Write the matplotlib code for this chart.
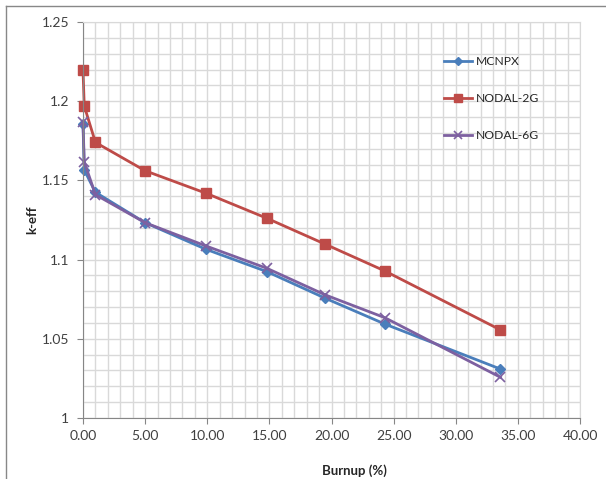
import matplotlib.pyplot as plt
from matplotlib.lines import Line2D
from matplotlib.ticker import MultipleLocator, FuncFormatter

plt.rcParams['font.family'] = ['Lato', 'DejaVu Sans']

burnup = [0.0, 0.1, 1.0, 5.0, 9.9, 14.8, 19.5, 24.3, 33.6]
mcnpx = [1.1856, 1.1566, 1.1425, 1.1233, 1.1065, 1.0924, 1.0756, 1.0593, 1.0309]
nodal_2g = [1.2197, 1.1970, 1.1740, 1.1561, 1.1419, 1.1261, 1.1097, 1.0928, 1.0556]
nodal_6g = [1.1866, 1.1618, 1.1410, 1.1233, 1.1086, 1.0945, 1.0777, 1.0633, 1.0257]

fig = plt.figure(figsize=(6.06, 4.79), dpi=100)
ax = fig.add_axes([83 / 606, 61 / 479, 497 / 606, 396 / 479])

ax.plot(burnup, mcnpx, color='#4a7ebb', lw=2, marker='D', ms=5.5, label='MCNPX', clip_on=False)
ax.plot(burnup, nodal_2g, color='#be4b48', lw=2, marker='s', ms=7, label='NODAL-2G', clip_on=False)
ax.plot(burnup, nodal_6g, color='#7d60a0', lw=2, marker='x', ms=7, mew=1.2, label='NODAL-6G', clip_on=False)

ax.set_xlim(0, 40)
ax.set_ylim(1, 1.25)
ax.xaxis.set_major_locator(MultipleLocator(5))
ax.xaxis.set_minor_locator(MultipleLocator(1))
ax.yaxis.set_major_locator(MultipleLocator(0.05))
ax.yaxis.set_minor_locator(MultipleLocator(0.01))
ax.xaxis.set_major_formatter(FuncFormatter(lambda v, p: f'{v:.2f}'))
ax.yaxis.set_major_formatter(FuncFormatter(lambda v, p: f'{v:g}'))

ax.grid(True, which='both', color='#d9d9d9', lw=1)
ax.set_axisbelow(True)
for s in ['top', 'right']:
    ax.spines[s].set_color('#d9d9d9')
for s in ['left', 'bottom']:
    ax.spines[s].set_color('#868686')
ax.tick_params(which='major', length=4, color='#868686', labelsize=10, labelcolor='#404040')
ax.tick_params(axis='x', pad=5)
ax.tick_params(axis='y', pad=6)
ax.tick_params(which='minor', length=0)

ax.set_xlabel('Burnup (%)', fontsize=9.5, fontweight='bold', color='#262626')
ax.set_ylabel('k-eff', fontsize=9.5, fontweight='bold', color='#262626')
ax.xaxis.set_label_coords(0.547, -0.116)
ax.yaxis.set_label_coords(-0.09, 0.5)

leg = ax.legend(loc='upper left', bbox_to_anchor=(444 / 606, 1 - 56 / 479),
                bbox_transform=fig.transFigure, frameon=False, fontsize=8.7,
                labelspacing=2.15, handlelength=2.3, handletextpad=0.3,
                borderaxespad=0, borderpad=0, markerscale=0.8)
for t in leg.get_texts():
    t.set_color('#262626')

fig.add_artist(Line2D([6 / 606, 6 / 606], [0, 1 - 6 / 479], transform=fig.transFigure, color='#888888', lw=1))
fig.add_artist(Line2D([6 / 606, 1], [1 - 6 / 479, 1 - 6 / 479], transform=fig.transFigure, color='#888888', lw=1))

plt.savefig('out.png', dpi=100)
